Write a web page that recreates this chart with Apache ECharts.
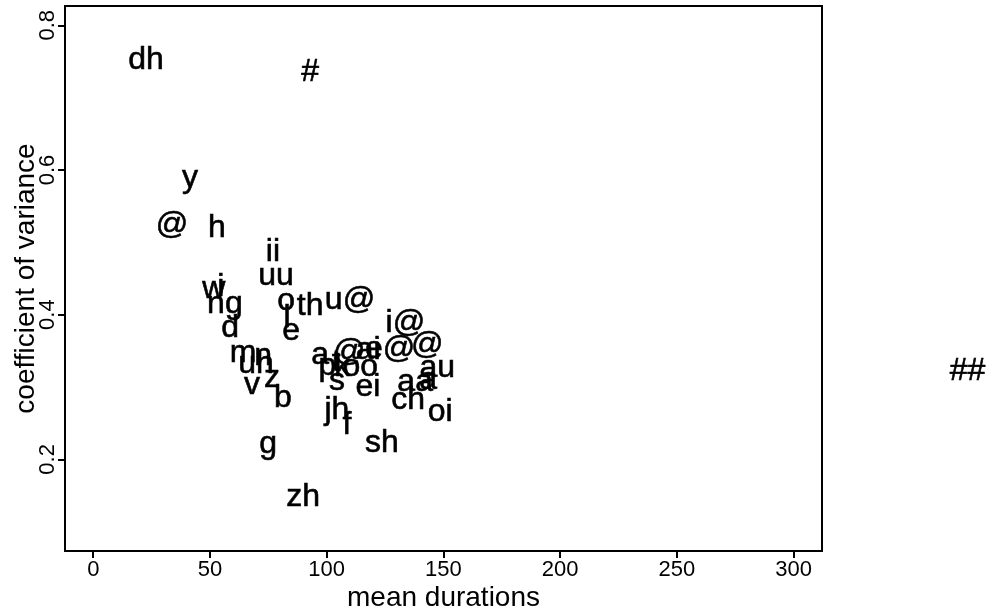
<!DOCTYPE html>
<html>
<head>
<meta charset="utf-8">
<script src="https://cdn.jsdelivr.net/npm/echarts@6/dist/echarts.min.js"></script>
<style>
  html, body { margin: 0; padding: 0; background: #fff; }
  #chart { width: 995px; height: 613px; }
</style>
</head>
<body>
<div id="chart"></div>
<script>
// Étiquettes des phonèmes et leurs valeurs (durée moyenne, coefficient de variation)
const phonemes = [
  'dh', '#', 'y', '@', 'h', 'ii', 'uu', 'w', 'i', 'ng', 'd',
  'o', 'th', 'u@', 'l', 'e', 'm', 'n', 'uh', 'v', 'z', 'b',
  'g', 'zh', 'jh', 'f', 'sh', 'ch', 'oi', 'ei', 's', 'a',
  '@', 'ai', 'e@', 'i@', '@', 'au', 'aa', 'a', 'p', 't', 'k', 'oo', '##'
];
const meanDurations = [
  22.6, 92.9, 41.4, 33.7, 53.0, 77.0, 78.3, 51.7, 54.7, 56.4, 58.6,
  82.6, 92.9, 110.0, 83.0, 84.8, 64.2, 72.8, 69.7, 68.0, 76.6, 81.3,
  74.9, 89.9, 104.4, 108.7, 123.7, 134.9, 148.6, 117.7, 104.4, 97.2,
  109.7, 117.8, 127.2, 133.7, 143.1, 147.4, 137.9, 143.5, 100.3, 104.1, 106.7, 114.4, 374.5
];
const coefVariance = [
  0.752, 0.735, 0.589, 0.524, 0.520, 0.486, 0.453, 0.435, 0.438, 0.415, 0.381,
  0.419, 0.412, 0.420, 0.395, 0.377, 0.347, 0.343, 0.332, 0.303, 0.312, 0.285,
  0.221, 0.148, 0.268, 0.247, 0.222, 0.282, 0.265, 0.300, 0.308, 0.344,
  0.348, 0.351, 0.352, 0.388, 0.358, 0.326, 0.307, 0.310, 0.329, 0.334, 0.327, 0.327, 0.322
];

// Graduations des axes
const xTicks = [0, 50, 100, 150, 200, 250, 300];
const yTicks = [0.2, 0.4, 0.6, 0.8];

const labelFont = "'Liberation Sans', Arial, sans-serif";

const points = phonemes.map((name, i) => ({
    name: name,
    value: [meanDurations[i], coefVariance[i]]
}));

const chart = echarts.init(document.getElementById('chart'));

chart.setOption({
    animation: false,
    backgroundColor: '#fff',
    grid: {
        left: 65,
        right: 173,
        top: 6,
        bottom: 62,
        outerBoundsMode: 'none',
        show: true,
        borderColor: '#000',
        borderWidth: 2,
        backgroundColor: 'transparent'
    },
    xAxis: {
        type: 'value',
        min: -12.1,
        max: 312.2,
        name: 'mean durations',
        nameLocation: 'middle',
        nameGap: 33,
        nameMoveOverlap: false,
        nameTextStyle: { fontSize: 28, color: '#000', fontFamily: labelFont },
        axisLine: { show: true, onZero: false, lineStyle: { color: '#000', width: 2 } },
        axisTick: { show: true, length: 7, customValues: xTicks, lineStyle: { color: '#000', width: 2 } },
        axisLabel: {
            customValues: xTicks,
            margin: 8,
            fontSize: 22,
            color: '#000',
            fontFamily: labelFont
        },
        splitLine: { show: false }
    },
    yAxis: {
        type: 'value',
        min: 0.0733,
        max: 0.8267,
        name: 'coefficient of variance',
        nameLocation: 'middle',
        nameGap: 25,
        nameMoveOverlap: false,
        nameTextStyle: { fontSize: 28, color: '#000', fontFamily: labelFont },
        axisLine: { show: true, onZero: false, lineStyle: { color: '#000', width: 2 } },
        axisTick: { show: true, length: 7, customValues: yTicks, lineStyle: { color: '#000', width: 2 } },
        axisLabel: {
            customValues: yTicks,
            rotate: 90,
            margin: 6,
            fontSize: 22,
            color: '#000',
            fontFamily: labelFont,
            formatter: v => v.toFixed(1)
        },
        splitLine: { show: false }
    },
    series: [
        {
            type: 'scatter',
            clip: false,
            symbolSize: 1,
            // opacité à 1 sinon les étiquettes héritent du 0.8 par défaut
            itemStyle: { color: 'transparent', opacity: 1 },
            label: {
                show: true,
                position: 'inside',
                formatter: '{b}',
                fontSize: 32,
                color: '#000',
                textBorderColor: '#000',
                textBorderWidth: 0.6,
                fontFamily: labelFont
            },
            emphasis: { disabled: true },
            data: points
        }
    ]
});
</script>
</body>
</html>
